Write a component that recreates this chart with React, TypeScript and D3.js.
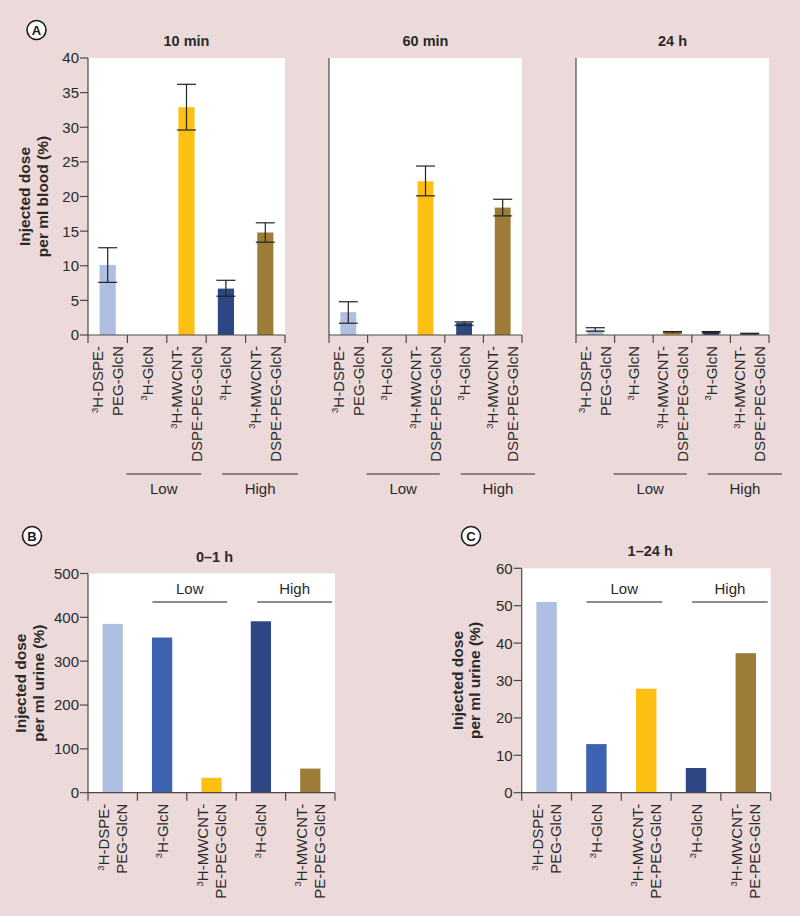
import React from 'react';
import * as d3 from 'd3';

// categories (one entry per bar slot, lines of the rotated label)
const LABELS_BLOOD = [['³H-DSPE-', 'PEG-GlcN'], ['³H-GlcN'], ['³H-MWCNT-', 'DSPE-PEG-GlcN'], ['³H-GlcN'], ['³H-MWCNT-', 'DSPE-PEG-GlcN']];
const LABELS_URINE = [['³H-DSPE-', 'PEG-GlcN'], ['³H-GlcN'], ['³H-MWCNT-', 'PE-PEG-GlcN'], ['³H-GlcN'], ['³H-MWCNT-', 'PE-PEG-GlcN']];
const GROUPS = ['Low', 'High'];

// blood (panel A), null = no bar
const BLOOD_10MIN = [10.1, null, 32.9, 6.7, 14.8];
const BLOOD_10MIN_LO = [7.6, null, 29.6, 5.6, 13.4];
const BLOOD_10MIN_HI = [12.6, null, 36.2, 7.9, 16.2];

const BLOOD_60MIN = [3.3, null, 22.2, 1.8, 18.4];
const BLOOD_60MIN_LO = [1.7, null, 20.1, 1.4, 17.2];
const BLOOD_60MIN_HI = [4.8, null, 24.4, 1.9, 19.6];

const BLOOD_24H = [0.75, null, 0.5, 0.5, 0.25];
const BLOOD_24H_LO = [0.55, null, 0.3, 0.3, 0.15];
const BLOOD_24H_HI = [1.05, null, 0.5, 0.5, 0.25];

// urine (panels B, C)
const URINE_0_1H = [385, 354, 34, 391, 55];
const URINE_1_24H = [51, 13, 27.8, 6.6, 37.3];

const COLORS = ['#aebfe1', '#3e62b0', '#fdbf12', '#2c4783', '#9d7c37'];

const BG = '#ecdada';
const TEXT = '#2a2a2a';
const AXIS = '#4a4a4a';
const FONT = '"Liberation Sans", Arial, sans-serif';

function RotLabel({ cx, top, lines, gap }) {
    return <g>
        {lines.map((ln, j) => {
            const off = (j - (lines.length - 1) / 2) * gap;
            const sup = ln.startsWith('³');
            const rest = sup ? ln.slice(1) : ln;
            return <text key={j} transform={`translate(${cx + off + 5.5},${top}) rotate(-90)`}
                textAnchor="end" fontSize={15} fill={TEXT} fontFamily={FONT}>
                {sup ? <tspan fontSize={9.5} dy={-5.5}>3</tspan> : null}
                <tspan dy={sup ? 5.5 : 0}>{rest}</tspan>
            </text>;
        })}
    </g>;
}

function Panel({ x0, x1, yTop, y0, domain, tickCount, showY, title, titleDx, values, lo, hi, labels, labelGap, bracket, yTitle }) {
    const y = d3.scaleLinear().domain(domain).range([y0, yTop]);
    const x = d3.scaleBand().domain(values.map((_, i) => String(i))).range([x0, x1]);
    const bw = x.bandwidth();
    const barW = bw * 0.41;
    const capW = 19;
    const bounds = d3.range(values.length + 1).map(i => x0 + i * bw);

    return <g>
        <rect x={x0} y={yTop} width={x1 - x0} height={y0 - yTop} fill="#fff" />
        <text x={(x0 + x1) / 2 + titleDx} y={yTop - 12} textAnchor="middle" fontWeight="bold" fontSize={14.5} fill={TEXT} fontFamily={FONT}>{title}</text>

        {values.map((v, i) => v == null ? null :
            <rect key={i} x={x(String(i)) + bw / 2 - barW / 2} y={y(v)} width={barW} height={y0 - y(v)} fill={COLORS[i]} />)}

        {lo && values.map((v, i) => v == null ? null :
            <g key={'e' + i} stroke="#222" strokeWidth={1.2}>
                <line x1={x(String(i)) + bw / 2} x2={x(String(i)) + bw / 2} y1={y(lo[i])} y2={y(hi[i])} />
                <line x1={x(String(i)) + bw / 2 - capW / 2} x2={x(String(i)) + bw / 2 + capW / 2} y1={y(hi[i])} y2={y(hi[i])} />
                <line x1={x(String(i)) + bw / 2 - capW / 2} x2={x(String(i)) + bw / 2 + capW / 2} y1={y(lo[i])} y2={y(lo[i])} />
            </g>)}

        {/* axes */}
        <line x1={x0} x2={x0} y1={yTop} y2={y0} stroke={AXIS} strokeWidth={1.2} />
        <line x1={x0} x2={x1} y1={y0} y2={y0} stroke={AXIS} strokeWidth={1.2} />
        {bounds.map((b, i) => <line key={i} x1={b} x2={b} y1={y0} y2={y0 + 8} stroke={AXIS} strokeWidth={1.2} />)}
        {showY && y.ticks(tickCount).map(t => <g key={t}>
            <line x1={x0 - 8} x2={x0} y1={y(t)} y2={y(t)} stroke={AXIS} strokeWidth={1.2} />
            <text x={x0 - 9} y={y(t)} dy="0.36em" textAnchor="end" fontSize={15} fill={TEXT} fontFamily={FONT}>{t}</text>
        </g>)}
        {yTitle && <text transform={`translate(${x0 + yTitle.dx},${(yTop + y0) / 2}) rotate(-90)`} textAnchor="middle"
            fontWeight="bold" fontSize={15.5} fill={TEXT} fontFamily={FONT}>
            <tspan x={0} dy={0}>Injected dose</tspan>
            <tspan x={0} dy={17.5}>{yTitle.text}</tspan>
        </text>}

        {labels.map((lines, i) => <RotLabel key={i} cx={x(String(i)) + bw / 2} top={y0 + 11} lines={lines} gap={labelGap} />)}

        {/* Low / High brackets */}
        {GROUPS.map((g, gi) => {
            const s = bounds[1 + gi * 2] + bracket.offs[gi][0];
            const e = bounds[3 + gi * 2] - bracket.offs[gi][1];
            return <g key={g}>
                <line x1={s} x2={e} y1={bracket.lineY} y2={bracket.lineY} stroke="#666" strokeWidth={1.3} />
                <text x={(s + e) / 2} y={bracket.textY} textAnchor="middle" fontSize={15} fill={TEXT} fontFamily={FONT}>{g}</text>
            </g>;
        })}
    </g>;
}

function Badge({ cx, cy, letter }) {
    return <g>
        <circle cx={cx} cy={cy} r={9.5} fill="#fff" stroke="#1a1a1a" strokeWidth={1.6} />
        <text x={cx} y={cy} dy="0.36em" textAnchor="middle" fontWeight="bold" fontSize={13} fill="#1a1a1a" fontFamily={FONT}>{letter}</text>
    </g>;
}

export default function App() {
    const bracketA = { lineY: 474, textY: 494, offs: [[-1, 5], [16, -13]] };
    const bracketBC = { lineY: 602, textY: 594, offs: [[15, 9], [21, 3]] };
    return <svg width={800} height={916} style={{ position: 'absolute', left: 0, top: 0, background: BG }}>
        <rect width={800} height={916} fill={BG} />
        <Badge cx={36.5} cy={30} letter="A" />
        <Badge cx={32} cy={536} letter="B" />
        <Badge cx={471} cy={536} letter="C" />

        <Panel x0={88} x1={285} yTop={58} y0={335} domain={[0, 40]} tickCount={8} showY title="10 min" titleDx={0}
            values={BLOOD_10MIN} lo={BLOOD_10MIN_LO} hi={BLOOD_10MIN_HI} labels={LABELS_BLOOD} labelGap={20}
            bracket={bracketA} yTitle={{ dx: -58, text: 'per ml blood (%)' }} />
        <Panel x0={329} x1={522} yTop={58} y0={335} domain={[0, 40]} tickCount={8} showY={false} title="60 min" titleDx={0}
            values={BLOOD_60MIN} lo={BLOOD_60MIN_LO} hi={BLOOD_60MIN_HI} labels={LABELS_BLOOD} labelGap={20}
            bracket={bracketA} />
        <Panel x0={576} x1={769} yTop={58} y0={335} domain={[0, 40]} tickCount={8} showY={false} title="24 h" titleDx={0}
            values={BLOOD_24H} lo={BLOOD_24H_LO} hi={BLOOD_24H_HI} labels={LABELS_BLOOD} labelGap={20}
            bracket={bracketA} />

        <Panel x0={88} x1={335} yTop={573.5} y0={792.7} domain={[0, 500]} tickCount={5} showY title="0–1 h" titleDx={3}
            values={URINE_0_1H} labels={LABELS_URINE} labelGap={18}
            bracket={bracketBC} yTitle={{ dx: -62, text: 'per ml urine (%)' }} />
        <Panel x0={521.7} x1={770.7} yTop={568.3} y0={792.7} domain={[0, 60]} tickCount={6} showY title="1–24 h" titleDx={4}
            values={URINE_1_24H} labels={LABELS_URINE} labelGap={18}
            bracket={bracketBC} yTitle={{ dx: -59, text: 'per ml urine (%)' }} />
    </svg>;
}
